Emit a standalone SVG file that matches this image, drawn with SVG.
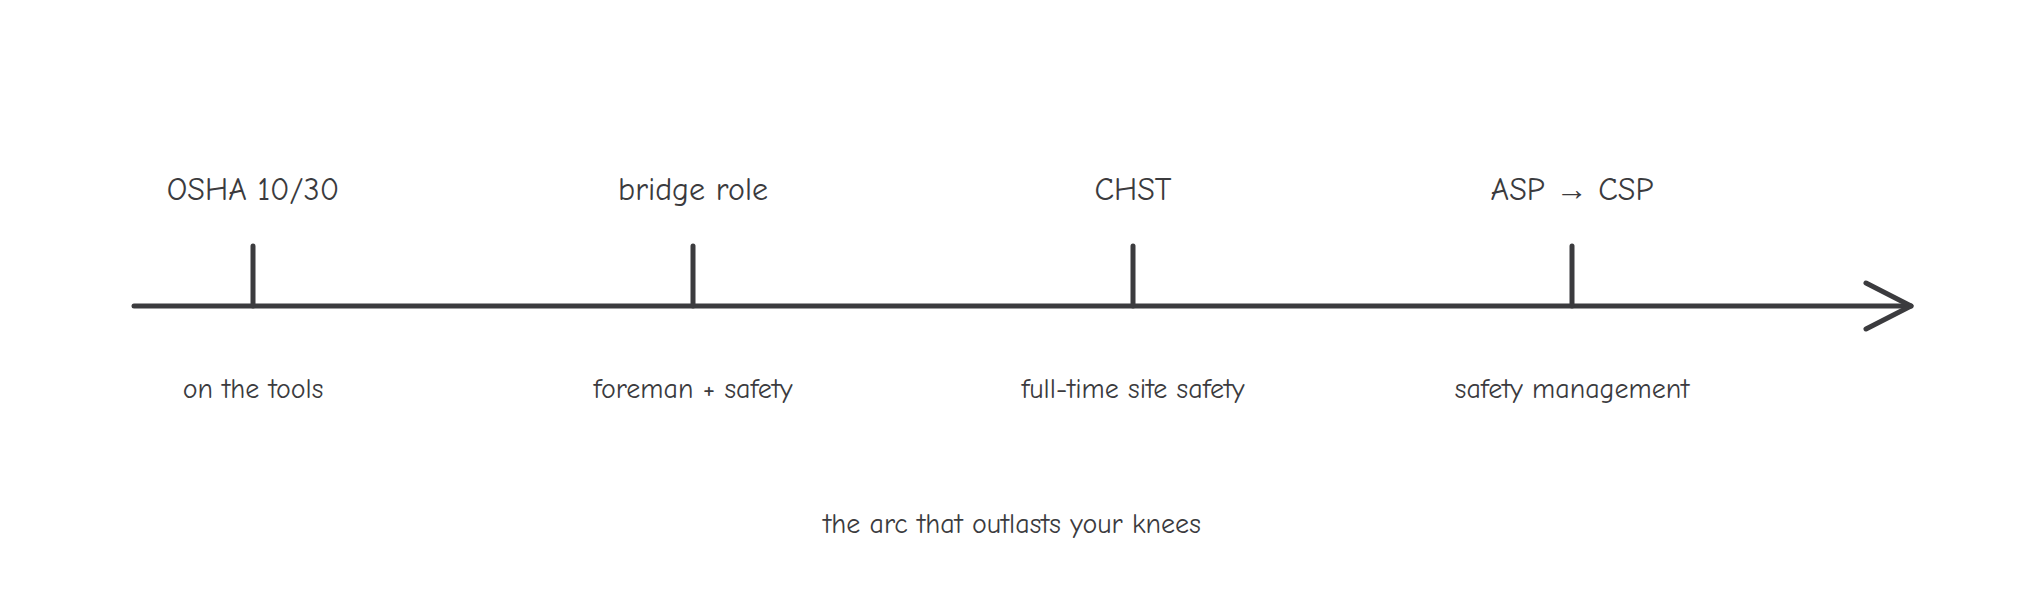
<svg xmlns="http://www.w3.org/2000/svg" width="2027" height="613" viewBox="0 0 2027 613">
<style>
.l{stroke:#3b3b3e;stroke-width:5;stroke-linecap:round;stroke-linejoin:round;fill:none}
.t{font-family:"Comic Neue","Liberation Sans",sans-serif;fill:#3b3b3e;text-anchor:middle}
.top{font-size:32px}
.bot{font-size:28px}
</style>
<rect width="2027" height="613" fill="#fff"/>
<g id="connectors">
<path class="l" d="M134 306 H1911"/>
<path class="l" d="M1866 283 L1911 306 L1866 329"/>
</g>
<g id="n1"><path class="l" d="M253 246 V306"/><text class="t top" x="253" y="200">OSHA 10/30</text><text class="t bot" x="253" y="398">on the tools</text></g>
<g id="n2"><path class="l" d="M693 246 V306"/><text class="t top" x="693" y="200">bridge role</text><text class="t bot" x="693" y="398">foreman + safety</text></g>
<g id="n3"><path class="l" d="M1133 246 V306"/><text class="t top" x="1133" y="200">CHST</text><text class="t bot" x="1133" y="398">full-time site safety</text></g>
<g id="n4"><path class="l" d="M1572 246 V306"/><text class="t top" x="1572" y="200">ASP → CSP</text><text class="t bot" x="1572" y="398">safety management</text></g>
<g id="caption"><text class="t bot" x="1012" y="533">the arc that outlasts your knees</text></g>
</svg>
